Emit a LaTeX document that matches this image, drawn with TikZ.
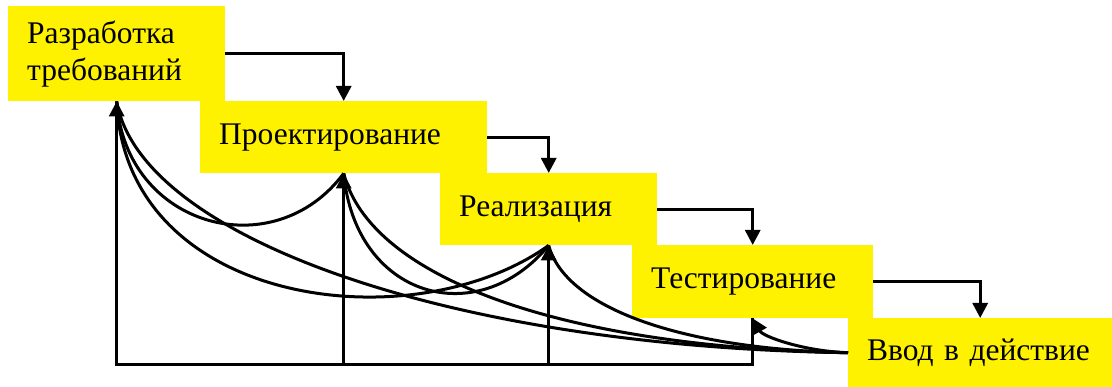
\documentclass[tikz,border=0pt]{standalone}
\usepackage{fontspec}
\setmainfont{Liberation Serif}
\usetikzlibrary{arrows.meta}

\begin{document}
\begin{tikzpicture}[x=1pt,y=1pt,
  stage/.style={fill=yellow,anchor=north west,inner xsep=19pt,inner ysep=0pt,
    align=left,font=\fontsize{31.5}{37}\selectfont},
  link/.style={line width=3pt},
  >={Triangle[length=15pt,width=15pt]}]
\useasboundingbox (0,0) rectangle (1112,387);
\node[stage,text width=179pt,minimum height=95pt] (b1) at (8,381) {Разработка\\требований};
\node[stage,text width=249pt,minimum height=72pt] (b2) at (200,286) {Проектирование};
\node[stage,text width=179pt,minimum height=72pt] (b3) at (440,214) {Реализация};
\node[stage,text width=203pt,minimum height=73pt] (b4) at (632,142) {Тестирование};
\node[stage,text width=226pt,minimum height=69pt] (b5) at (848,69) {Ввод в действие};
% steps down
\draw[link,->] (b1.east) -| (b2.north);
\draw[link,->] (b2.east) -| (b3.north);
\draw[link,->] (b3.east) -| (b4.north);
\draw[link,->] (b4.east) -| (b5.north);
% bus along the bottom
\coordinate (bus) at (0,22);
\draw[link,->] (b4.south) -- (b4.south |- bus) -| (b1.south);
\draw[link,->] (b2.south |- bus) -- (b2.south);
\draw[link,->] (b3.south |- bus) -- (b3.south);
% returns
\draw[link] (b1.south) .. controls +(8.5,-126) and +(-70,-94) .. (b2.south);
\draw[link] (b1.south) .. controls +(8.5,-206) and +(-135,-97) .. (b3.south);
\draw[link] (b1.south) .. controls +(23.5,-136) and +(-398,5.5) .. (b5.west);
\draw[link] (b2.south) .. controls +(11.5,-124) and +(-72,-87) .. (b3.south);
\draw[link] (b2.south) .. controls +(26.5,-104) and +(-288,5.5) .. (b5.west);
\draw[link] (b3.south) .. controls +(16.5,-62) and +(-168,3.5) .. (b5.west);
\draw[link,->] (b5.west) .. controls +(-45,1.5) and +(10,-18) .. (b4.south);
\end{tikzpicture}
\end{document}
